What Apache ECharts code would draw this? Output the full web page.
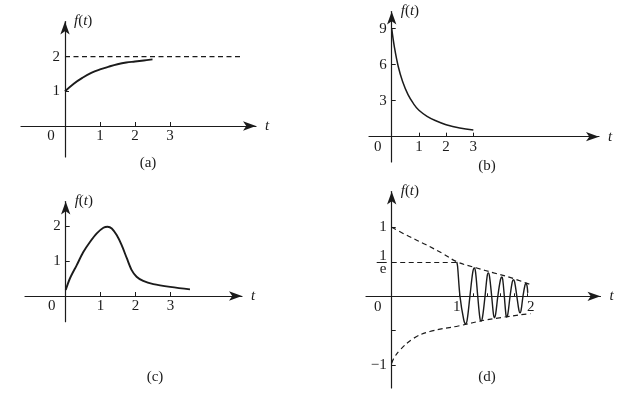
<!DOCTYPE html>
<html><head><meta charset="utf-8">
<script src="https://cdn.jsdelivr.net/npm/echarts@6/dist/echarts.min.js"></script>
<style>html,body{margin:0;padding:0;background:#fff}#c{width:634px;height:394px}</style>
</head><body><div id="c"></div>
<script>
// ---------- data ----------
// (a)
const tA = [0, 0.25, 0.5, 0.75, 1, 1.25, 1.5, 1.75, 2, 2.25, 2.5];
const fA = [1, 1.22, 1.39, 1.53, 1.63, 1.71, 1.78, 1.83, 1.86, 1.89, 1.92];
const asymA = 2, asymEndA = 5;
// (b)
const tB = [0, 0.1, 0.24, 0.4, 0.6, 0.8, 1, 1.3, 1.6, 2, 2.5, 3];
const fB = [9, 7.45, 5.85, 4.6, 3.5, 2.75, 2.2, 1.7, 1.35, 1.0, 0.72, 0.56];
// (c)
const tC = [0, 0.12, 0.32, 0.5, 0.7, 0.89, 1.08, 1.2, 1.32, 1.46, 1.6, 1.75, 1.89, 2.03, 2.22, 2.51, 2.99, 3.56];
const fC = [0.17, 0.5, 0.89, 1.25, 1.55, 1.79, 1.95, 1.98, 1.93, 1.74, 1.46, 1.08, 0.74, 0.55, 0.43, 0.34, 0.26, 0.19];
// (d)
const tDU = [0, 0.25, 0.5, 0.75, 0.96, 1.25, 1.5, 1.75, 2.04];
const fDU = [1.0, 0.87, 0.75, 0.62, 0.50, 0.41, 0.34, 0.27, 0.17];
const tDL = [0, 0.03, 0.12, 0.32, 0.56, 0.98, 1.4, 2.04];
const fDL = [-0.97, -0.9, -0.78, -0.61, -0.51, -0.43, -0.34, -0.25];
const levelD = 0.49, levelEndD = 0.96;          // the "1/e" level
const tDO = [0.956, 0.968, 1.004, 1.059, 1.088, 1.110, 1.15, 1.192, 1.215, 1.233, 1.265, 1.296, 1.313, 1.334, 1.372,
             1.403, 1.42, 1.438, 1.47, 1.496, 1.51, 1.528, 1.56, 1.599, 1.62, 1.633, 1.656, 1.678, 1.69, 1.708, 1.74,
             1.772, 1.79, 1.808, 1.84, 1.871, 1.887, 1.902, 1.93, 1.959, 1.975, 1.99, 2.0];
const fDO = [0.50, 0.44, 0, -0.34, -0.40, -0.34, 0, 0.35, 0.41, 0.35, 0, -0.31, -0.36, -0.31, 0,
             0.29, 0.34, 0.29, 0, -0.26, -0.31, -0.26, 0, 0.24, 0.28, 0.24, 0, -0.255, -0.30, -0.255, 0,
             0.205, 0.24, 0.205, 0, -0.205, -0.24, -0.205, 0, 0.16, 0.19, 0.15, 0.05];
// ticks / labels
const xTicksA = [1, 2, 3], xLabelsA = [0, 1, 2, 3], yTicksA = [1, 2], yLabelsA = [1, 2];
const xTicksB = [1, 2, 3], xLabelsB = [0, 1, 2, 3], yTicksB = [3, 6, 9], yLabelsB = [3, 6, 9];
const xTicksC = [1, 2, 3], xLabelsC = [0, 1, 2, 3], yTicksC = [1, 2], yLabelsC = [1, 2];
const xTicksD = [1, 1.2, 1.4, 1.6, 1.8, 2], xLabelsD = [0, 1, 2], yTicksD = [1, levelD, -levelD, -1], yLabelsD = [1, levelD, -1];
const captions = ['(a)', '(b)', '(c)', '(d)'];

// ---------- layout ----------
const FONT = '"Liberation Serif", "DejaVu Serif", serif';
const INK = '#1b1b1b';
const panels = [
  {grid: {left: 21, top: 21.5, width: 235, height: 135.5}, x: [-1.257, 5.457], y: [-0.893, 3.012],
   xt: xTicksA, xl: xLabelsA, yt: yTicksA, yl: yLabelsA, cap: [148, 163]},
  {grid: {left: 369, top: 11.5, width: 230, height: 150.5}, x: [-0.835, 7.62], y: [-2.11, 10.43],
   xt: xTicksB, xl: xLabelsB, yt: yTicksB, yl: yLabelsB, cap: [487, 166]},
  {grid: {left: 25, top: 201.5, width: 217, height: 120.2}, x: [-1.166, 5.05], y: [-0.734, 2.7],
   xt: xTicksC, xl: xLabelsC, yt: yTicksC, yl: yLabelsC, cap: [155, 377]},
  {grid: {left: 366, top: 191.5, width: 234.5, height: 196.5}, x: [-0.378, 3.07], y: [-1.329, 1.519],
   xt: xTicksD, xl: xLabelsD, yt: yTicksD, yl: yLabelsD, cap: [487, 377]}
];

const lineStyleAxis = {color: INK, width: 1.2};
const grids = [], xAxes = [], yAxes = [];
panels.forEach((p, i) => {
  grids.push(Object.assign({outerBoundsMode: 'none', containLabel: false}, p.grid));
  xAxes.push({
    type: 'value', gridIndex: i, min: p.x[0], max: p.x[1], position: 'bottom', offset: 0,
    axisLine: {onZero: false, lineStyle: lineStyleAxis, symbol: ['none', 'arrow'], symbolSize: [7, 13]},
    axisTick: {show: true, inside: true, length: i === 3 ? 3 : 4, customValues: p.xt, lineStyle: {color: INK, width: 1}},
    axisLabel: {show: true, customValues: p.xl, margin: 3, color: INK, fontFamily: FONT, fontSize: 15,
      formatter: v => {
        if (v === 0) return '{z|0}';
        if (i === 3 && v === 1) return '{l|1}';
        if (i === 3 && v === 2) return '{r|2}';
        return String(v);
      },
      rich: {
        z: {padding: [0, 28, 0, 0], fontFamily: FONT, fontSize: 15, color: INK},
        l: {padding: [0, 6, 0, 0], fontFamily: FONT, fontSize: 15, color: INK},
        r: {padding: [0, 0, 0, 6], fontFamily: FONT, fontSize: 15, color: INK}
      }},
    splitLine: {show: false},
    name: 't', nameLocation: 'end', nameGap: 9,
    nameTextStyle: {fontFamily: FONT, fontSize: 15, fontStyle: 'italic', color: INK, align: 'left', verticalAlign: 'middle'}
  });
  yAxes.push({
    type: 'value', gridIndex: i, min: p.y[0], max: p.y[1], position: 'left', offset: 0,
    axisLine: {onZero: false, lineStyle: lineStyleAxis, symbol: ['none', 'arrow'], symbolSize: [7, 13]},
    axisTick: {show: true, inside: true, length: 4, customValues: p.yt, lineStyle: {color: INK, width: 1}},
    axisLabel: {show: true, customValues: p.yl, margin: 5, color: INK, fontFamily: FONT, fontSize: 15,
      formatter: v => {
        if (i === 3 && Math.abs(v - levelD) < 1e-9) return '{n|1}\n{d|e}';
        if (v < 0) return '\u2212' + Math.abs(v);
        return String(v);
      },
      rich: {
        n: {fontFamily: FONT, fontSize: 15, color: INK, lineHeight: 13, align: 'center'},
        d: {fontFamily: FONT, fontSize: 15, color: INK, lineHeight: 13, align: 'center'}
      }},
    splitLine: {show: false},
    name: '{i|f}({i|t})', nameLocation: 'end', nameGap: 0,
    nameTextStyle: {fontFamily: FONT, fontSize: 15, color: INK, align: 'left', verticalAlign: 'middle', padding: [0, 0, 0, 9],
      rich: {i: {fontFamily: FONT, fontSize: 15, fontStyle: 'italic', color: INK}}}
  });
});

const zip = (a, b) => a.map((t, k) => [t, b[k]]);
const solid = w => ({color: INK, width: w, type: 'solid'});
const dashed = {color: INK, width: 1.2, type: [5, 3.5]};
const base = {type: 'line', showSymbol: false, symbol: 'none', silent: true, clip: false};

const series = [
  Object.assign({}, base, {xAxisIndex: 0, yAxisIndex: 0, smooth: 0.4, data: zip(tA, fA), lineStyle: solid(1.9)}),
  Object.assign({}, base, {xAxisIndex: 0, yAxisIndex: 0, data: [[0, asymA], [asymEndA, asymA]], lineStyle: dashed}),
  Object.assign({}, base, {xAxisIndex: 1, yAxisIndex: 1, smooth: 0.4, data: zip(tB, fB), lineStyle: solid(1.5)}),
  Object.assign({}, base, {xAxisIndex: 2, yAxisIndex: 2, smooth: 0.3, data: zip(tC, fC), lineStyle: solid(1.9)}),
  Object.assign({}, base, {xAxisIndex: 3, yAxisIndex: 3, smooth: 0.4, data: zip(tDU, fDU), lineStyle: dashed}),
  Object.assign({}, base, {xAxisIndex: 3, yAxisIndex: 3, smooth: 0.4, data: zip(tDL, fDL), lineStyle: dashed}),
  Object.assign({}, base, {xAxisIndex: 3, yAxisIndex: 3, data: [[0, levelD], [levelEndD, levelD]], lineStyle: dashed}),
  Object.assign({}, base, {xAxisIndex: 3, yAxisIndex: 3, smooth: 0.35, data: zip(tDO, fDO), lineStyle: solid(1.4)})
];

const graphic = panels.map((p, i) => ({
  type: 'text', id: 'cap' + i, x: p.cap[0], y: p.cap[1],
  style: {text: captions[i], fontFamily: FONT, fontSize: 15, fill: INK, align: 'center', verticalAlign: 'middle'}
}));

const chart = echarts.init(document.getElementById('c'), null, {renderer: 'canvas'});
chart.setOption({
  backgroundColor: '#fff', animation: false,
  grid: grids, xAxis: xAxes, yAxis: yAxes, series: series, graphic: graphic
});
// move each axis onto the other axis' zero, using the library's own scale
const xOff = [], yOff = [];
panels.forEach((p, i) => {
  const o = chart.convertToPixel({gridIndex: i}, [0, 0]);
  const lo = chart.convertToPixel({gridIndex: i}, [p.x[0], p.y[0]]);
  xOff.push({offset: -(lo[1] - o[1])});
  yOff.push({offset: -(o[0] - lo[0])});
});
const pt = chart.convertToPixel({gridIndex: 3}, [0, levelD]);
chart.setOption({
  xAxis: xOff, yAxis: yOff,
  graphic: graphic.concat([{
    type: 'line', id: 'fracbar', shape: {x1: pt[0] - 15, y1: pt[1], x2: pt[0] - 5, y2: pt[1]},
    style: {stroke: INK, lineWidth: 1}
  }])
});
</script></body></html>
